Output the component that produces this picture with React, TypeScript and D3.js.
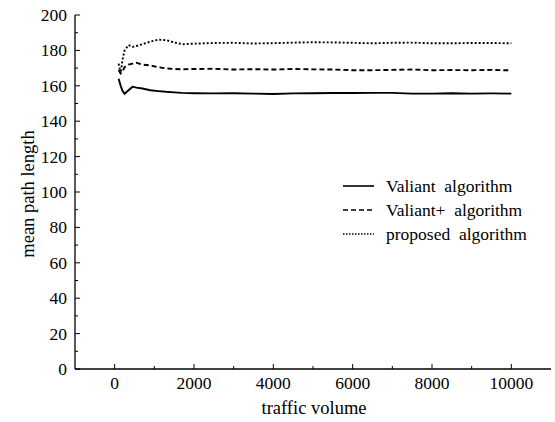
import * as d3 from "d3";
import { useEffect, useRef } from "react";

// traffic volume samples
const volume = [100, 150, 200, 250, 350, 450, 550, 700, 900, 1100, 1300, 1500, 1700, 2000, 2500, 3000, 3500, 4000, 4500, 5000, 5500, 6000, 6500, 7000, 7500, 8000, 8500, 9000, 9500, 10000];

const valiant = [164, 160, 157, 155.5, 157.5, 159.5, 159, 158.5, 157.5, 157, 156.6, 156.3, 156, 155.8, 155.7, 155.8, 155.6, 155.4, 155.7, 155.8, 155.9, 155.9, 156, 156, 155.6, 155.6, 155.8, 155.6, 155.7, 155.6];
const valiantPlus = [169, 167, 168, 170.5, 172, 172.5, 173, 172, 171.5, 170.5, 169.8, 169.5, 169.3, 169.5, 169.6, 169.2, 169.4, 169.2, 169.5, 169.3, 169.2, 168.8, 168.8, 169, 169.2, 168.8, 168.9, 168.8, 169, 168.7];
const proposed = [172.5, 167, 175, 180, 183, 182, 182.5, 183.5, 185, 186, 185.8, 184.5, 183.5, 183.8, 184.2, 184.3, 183.9, 184.1, 184.4, 184.6, 184.5, 184.3, 184, 184.3, 184.4, 184, 184, 184.2, 184.2, 184];

const seriesNames = ["Valiant  algorithm", "Valiant+  algorithm", "proposed  algorithm"];
const seriesValues = [valiant, valiantPlus, proposed];
const dashes = ["none", "5,3", "2,2"];

const xTicks = [0, 2000, 4000, 6000, 8000, 10000];
const yTicks = [0, 20, 40, 60, 80, 100, 120, 140, 160, 180, 200];

export default function App() {
  const ref = useRef<SVGSVGElement>(null);

  useEffect(() => {
    const width = 555;
    const height = 422;
    const svg = d3.select(ref.current);
    svg.selectAll("*").remove();
    svg.attr("width", width).attr("height", height);

    const font = "'Liberation Serif', 'Times New Roman', serif";
    const fs = 17.5;
    const x = d3.scaleLinear().domain([-1000, 11000]).range([75, 551]);
    const y = d3.scaleLinear().domain([0, 200]).range([369, 15]);

    const g = svg.append("g");

    // axes lines
    g.append("line").attr("x1", x(-1000)).attr("x2", x(11000)).attr("y1", y(0)).attr("y2", y(0)).attr("stroke", "#000").attr("stroke-width", 1.3);
    g.append("line").attr("x1", x(-1000)).attr("x2", x(-1000)).attr("y1", y(0)).attr("y2", y(200)).attr("stroke", "#000").attr("stroke-width", 1.3);

    // x ticks (inward)
    d3.range(0, 11000, 1000).forEach((v) => {
      const major = v % 2000 === 0;
      g.append("line").attr("x1", x(v)).attr("x2", x(v)).attr("y1", y(0)).attr("y2", y(0) - (major ? 5 : 3)).attr("stroke", "#000").attr("stroke-width", 1);
    });
    g.selectAll("text.xt").data(xTicks).join("text").attr("class", "xt")
      .attr("x", (d) => x(d)).attr("y", 389).attr("text-anchor", "middle")
      .attr("font-family", font).attr("font-size", fs).text((d) => d);

    // y ticks (inward)
    d3.range(0, 201, 10).forEach((v) => {
      const major = v % 20 === 0;
      g.append("line").attr("x1", x(-1000)).attr("x2", x(-1000) + (major ? 5 : 3)).attr("y1", y(v)).attr("y2", y(v)).attr("stroke", "#000").attr("stroke-width", 1);
    });
    g.selectAll("text.yt").data(yTicks).join("text").attr("class", "yt")
      .attr("x", 67).attr("y", (d) => y(d) + 6).attr("text-anchor", "end")
      .attr("font-family", font).attr("font-size", fs).text((d) => d);

    // axis labels
    g.append("text").attr("x", 314).attr("y", 414).attr("text-anchor", "middle")
      .attr("font-family", font).attr("font-size", 18.5).text("traffic volume");
    g.append("text").attr("transform", `translate(34,194) rotate(-90)`).attr("text-anchor", "middle")
      .attr("font-family", font).attr("font-size", 18.5).text("mean path length");

    // series
    const line = d3.line<number>().x((_, i) => x(volume[i])).y((d) => y(d));
    seriesValues.forEach((vals, i) => {
      g.append("path").datum(vals).attr("d", line).attr("fill", "none")
        .attr("stroke", "#000").attr("stroke-width", 1.9)
        .attr("stroke-dasharray", dashes[i]);
    });

    // legend
    seriesNames.forEach((name, i) => {
      const ly = 186 + i * 24;
      g.append("line").attr("x1", 343).attr("x2", 374).attr("y1", ly).attr("y2", ly)
        .attr("stroke", "#000").attr("stroke-width", 1.6).attr("stroke-dasharray", dashes[i] === "2,2" ? "1.5,1.5" : dashes[i]);
      g.append("text").attr("x", 386).attr("y", ly + 6).attr("font-family", font)
        .attr("font-size", fs).style("white-space", "pre").text(name);
    });
  }, []);

  return <svg ref={ref} style={{ position: "absolute", left: 0, top: 0 }} />;
}
